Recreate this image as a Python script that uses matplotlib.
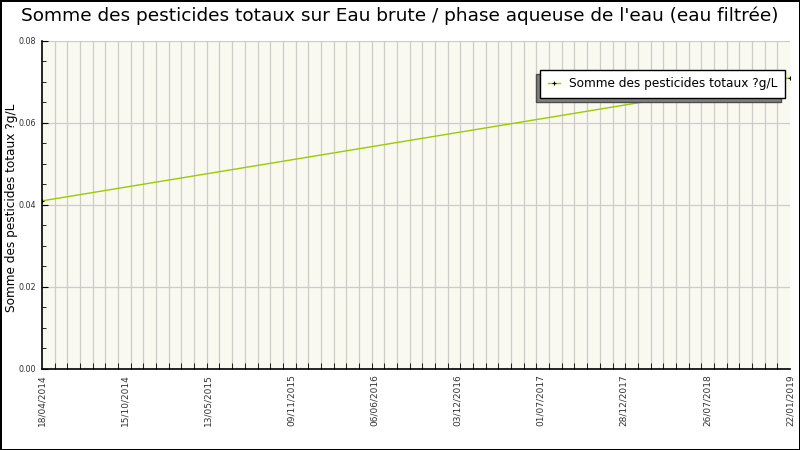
import matplotlib
matplotlib.use("Agg")
import matplotlib.pyplot as plt
import matplotlib.dates as mdates
import numpy as np
from datetime import datetime

# data
dates = [datetime(2014, 4, 18), datetime(2019, 1, 22)]
values = [0.041, 0.071]
tick_labels = ["18/04/2014", "15/10/2014", "13/05/2015", "09/11/2015", "06/06/2016",
               "03/12/2016", "01/07/2017", "28/12/2017", "26/07/2018", "22/01/2019"]
series_name = "Somme des pesticides totaux ?g/L"
title = "Somme des pesticides totaux sur Eau brute / phase aqueuse de l'eau (eau filtrée)"

fig = plt.figure(figsize=(8, 4.5), dpi=100)
fig.patch.set_facecolor("white")
fig.patch.set_edgecolor("black")
fig.patch.set_linewidth(2)
ax = fig.add_axes([0.0525, 0.18, 0.935, 0.729])
ax.set_facecolor("#f9f9ef")

x = mdates.date2num(dates)
ax.plot(x, values, color="#99cc00", linewidth=1, marker="+", markersize=3,
        markeredgecolor="black", markeredgewidth=0.8, label=series_name, zorder=3)

x0, x1 = x[0], x[-1]
ax.set_xlim(x0, x1)
ax.set_ylim(0, 0.08)

ax.set_xticks(np.linspace(x0, x1, len(tick_labels)))
ax.set_xticklabels(tick_labels, rotation=90, fontsize=6.5, color="#333333")
ax.set_xticks(np.linspace(x0, x1, 60), minor=True)
ax.set_yticks([0, 0.02, 0.04, 0.06, 0.08])
ax.set_yticklabels(["0.00", "0.02", "0.04", "0.06", "0.08"], fontsize=5.8, color="#333333")
ax.set_yticks(np.arange(0, 0.0801, 0.005), minor=True)

ax.tick_params(axis="both", which="both", direction="in", color="black")
ax.tick_params(axis="x", which="major", length=0, pad=4)
ax.tick_params(axis="x", which="minor", length=4)
ax.tick_params(axis="y", which="major", length=4, pad=4.5)
ax.tick_params(axis="y", which="minor", length=3)

ax.grid(axis="x", which="minor", color="#cccccc", linewidth=0.9)
ax.grid(axis="y", which="major", color="#cccccc", linewidth=0.9)
ax.set_axisbelow(True)

for s in ["top", "right"]:
    ax.spines[s].set_visible(False)
for s in ["left", "bottom"]:
    ax.spines[s].set_color("black")
    ax.spines[s].set_linewidth(1.2)

ax.set_ylabel(series_name, fontsize=8.7)
ax.yaxis.set_label_coords(-0.032, 0.49)
fig.suptitle(title, fontsize=13.3, y=0.985)

leg = ax.legend(loc="upper right", bbox_to_anchor=(785 / 800, 1 - 70 / 450),
                bbox_transform=fig.transFigure, borderaxespad=0, fontsize=8.7,
                frameon=True, fancybox=False, edgecolor="black",
                framealpha=1, handlelength=1.0, handletextpad=0.8, borderpad=0.6,
                shadow={"ox": -3, "oy": -3, "facecolor": "#808080", "alpha": 1})
leg.get_frame().set_linewidth(1)

fig.savefig("out.png", dpi=100)
